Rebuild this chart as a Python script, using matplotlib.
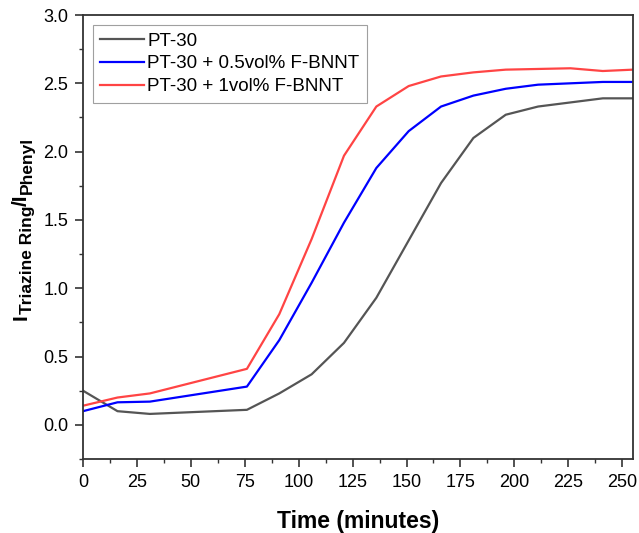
import matplotlib
matplotlib.use('Agg')
import matplotlib.pyplot as plt
from matplotlib.ticker import MultipleLocator, FormatStrFormatter

time_min = [0, 16, 31, 76, 91, 106, 121, 136, 151, 166, 181, 196, 211, 226, 241, 255]
pt30 = [0.25, 0.10, 0.08, 0.11, 0.23, 0.37, 0.60, 0.93, 1.35, 1.77, 2.10, 2.27, 2.33, 2.36, 2.39, 2.39]
pt30_05 = [0.10, 0.165, 0.17, 0.28, 0.62, 1.04, 1.48, 1.88, 2.15, 2.33, 2.41, 2.46, 2.49, 2.50, 2.51, 2.51]
pt30_1 = [0.14, 0.20, 0.23, 0.41, 0.81, 1.36, 1.97, 2.33, 2.48, 2.55, 2.58, 2.60, 2.605, 2.61, 2.59, 2.60]
labels = ['PT-30', 'PT-30 + 0.5vol% F-BNNT', 'PT-30 + 1vol% F-BNNT']

plt.rcParams['font.family'] = 'Liberation Sans'

W, H = 639, 533
fig = plt.figure(figsize=(W / 100, H / 100), dpi=100)
ax = fig.add_axes([83 / W, 1 - 459 / H, 550 / W, 444 / H])

ax.plot(time_min, pt30, color='#555555', lw=1.6, label=labels[0])
ax.plot(time_min, pt30_05, color='#0000ff', lw=1.6, label=labels[1])
ax.plot(time_min, pt30_1, color='#ff4444', lw=1.6, label=labels[2])

ax.set_xlim(0, 255)
ax.set_ylim(-0.25, 3.0)
ax.xaxis.set_major_locator(MultipleLocator(25))
ax.xaxis.set_minor_locator(MultipleLocator(12.5))
ax.yaxis.set_major_locator(MultipleLocator(0.5))
ax.yaxis.set_minor_locator(MultipleLocator(0.25))
ax.yaxis.set_major_formatter(FormatStrFormatter('%.1f'))

for s in ax.spines.values():
    s.set_linewidth(1.3)
    s.set_color('#333333')
ax.tick_params(which='major', direction='out', length=5.5, width=1.2, pad=5,
               labelsize=13, colors='#333333', labelcolor='black')
ax.tick_params(which='minor', direction='out', length=3, width=1.0, colors='#333333')

ax.set_xlabel('Time (minutes)', fontsize=16.5, fontweight='bold', labelpad=14)

# y label built from pieces so the subscripts can be sized like the original
kw = dict(rotation=90, rotation_mode='anchor', ha='left', va='baseline', fontweight='bold')
t1 = fig.text(27 / W, 213 / H, 'I', fontsize=15, **kw)
t2 = ax.annotate('Triazine Ring', xy=(32, 1.0), xycoords=('figure pixels', t1), fontsize=12.5, **kw)
t3 = ax.annotate('/I', xy=(27, 1.0), xycoords=('figure pixels', t2), fontsize=15, **kw)
t4 = ax.annotate('Phenyl', xy=(32, 1.0), xycoords=('figure pixels', t3), fontsize=12.5, **kw)

leg = ax.legend(loc='upper left', fontsize=13.5, frameon=True, fancybox=False,
                edgecolor='#888888', handlelength=2.3, borderpad=0.4,
                labelspacing=0.3, handletextpad=0.2, borderaxespad=0,
                bbox_to_anchor=(10 / 550, 1 - 10 / 444))
leg.get_frame().set_linewidth(0.8)

fig.savefig('out.png', dpi=100)
